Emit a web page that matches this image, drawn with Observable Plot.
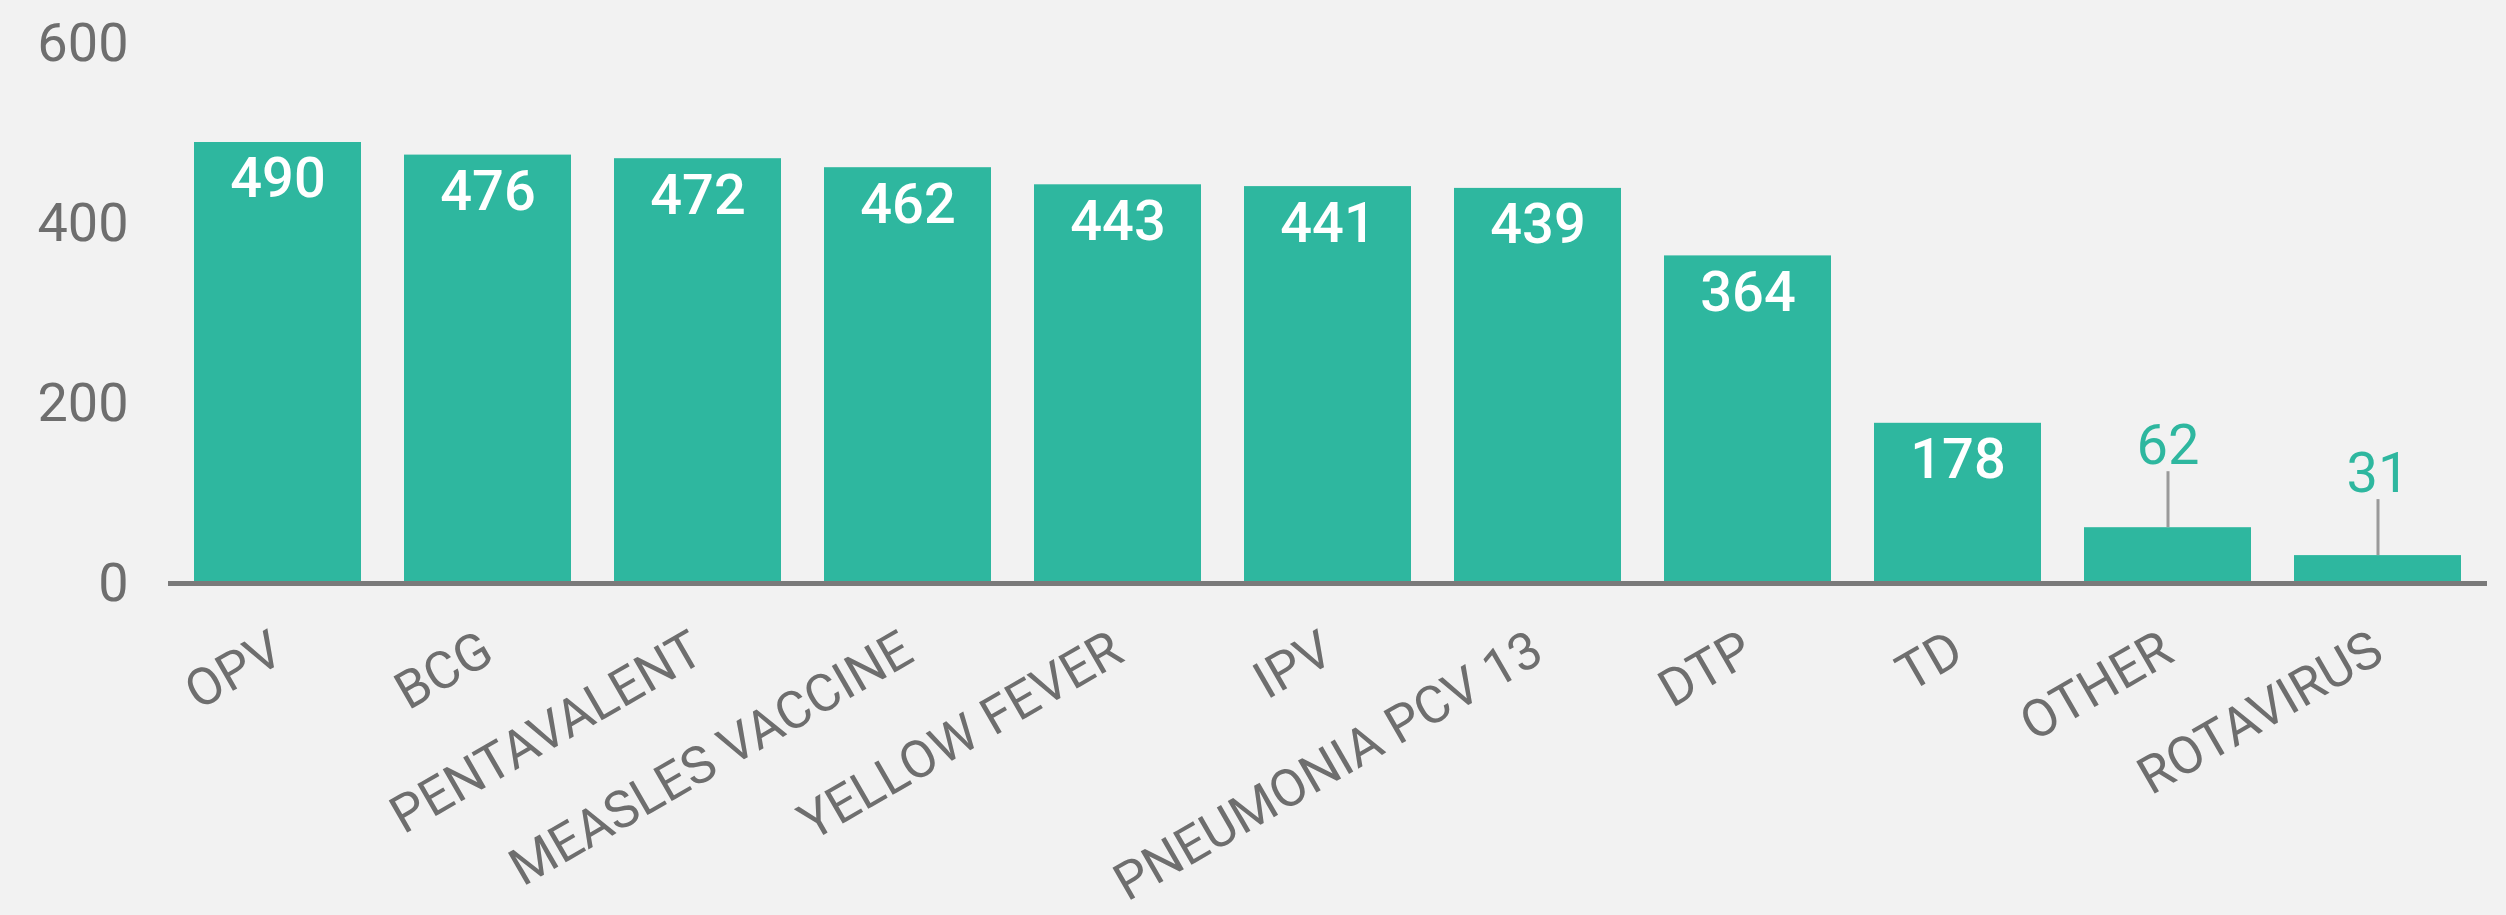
<!DOCTYPE html>
<html>
<head>
<meta charset="utf-8">
<script src="https://cdn.jsdelivr.net/npm/d3@7"></script>
<script src="https://cdn.jsdelivr.net/npm/@observablehq/plot@0.6"></script>
<style>
  html, body { margin: 0; padding: 0; background: #f2f2f2; }
  #chart svg { display: block; background: #f2f2f2; font-family: Roboto, sans-serif; }
</style>
</head>
<body>
<div id="chart"></div>
<script>
const categories = ["OPV", "BCG", "PENTAVALENT", "MEASLES VACCINE", "YELLOW FEVER", "IPV", "PNEUMONIA PCV 13", "DTP", "TD", "OTHER", "ROTAVIRUS"];
const values = [490, 476, 472, 462, 443, 441, 439, 364, 178, 62, 31];
const yTicks = [0, 200, 400, 600];

const data = categories.map((name, i) => ({name, value: values[i]}));
const inside = data.filter(d => d.value >= 100);
const outside = data.filter(d => d.value < 100);

const teal = "#2eb79f";

const chart = Plot.plot({
  width: 2506,
  height: 915,
  marginLeft: 168,
  marginRight: 19,
  marginTop: 43,
  marginBottom: 332,
  style: {background: "#f2f2f2", fontFamily: "Roboto, sans-serif"},
  x: {domain: categories, paddingInner: 0.205, paddingOuter: 0.116, label: null},
  y: {domain: [0, 600], label: null},
  marks: [
    Plot.barY(data, {x: "name", y: "value", fill: teal}),
    Plot.ruleY([0], {stroke: "#7a7a7a", strokeWidth: 5}),
    Plot.axisY({ticks: yTicks, tickSize: 0, tickPadding: 40, fontSize: 54, fill: "#6e6e6e", label: null}),
    Plot.axisX({tickSize: 0, tickPadding: 62, tickRotate: -30, fontSize: 52, fill: "#6e6e6e", label: null}),
    Plot.text(inside, {x: "name", y: "value", text: d => String(d.value), dy: 37, fill: "#ffffff", fontSize: 56, fontWeight: 500}),
    Plot.ruleX(outside, {x: "name", y1: "value", y2: "value", insetBottom: 56, stroke: "#9a9a9a", strokeWidth: 3}),
    Plot.text(outside, {x: "name", y: "value", text: d => String(d.value), dy: -82, fill: teal, fontSize: 56})
  ]
});
document.getElementById("chart").appendChild(chart);
</script>
</body>
</html>
